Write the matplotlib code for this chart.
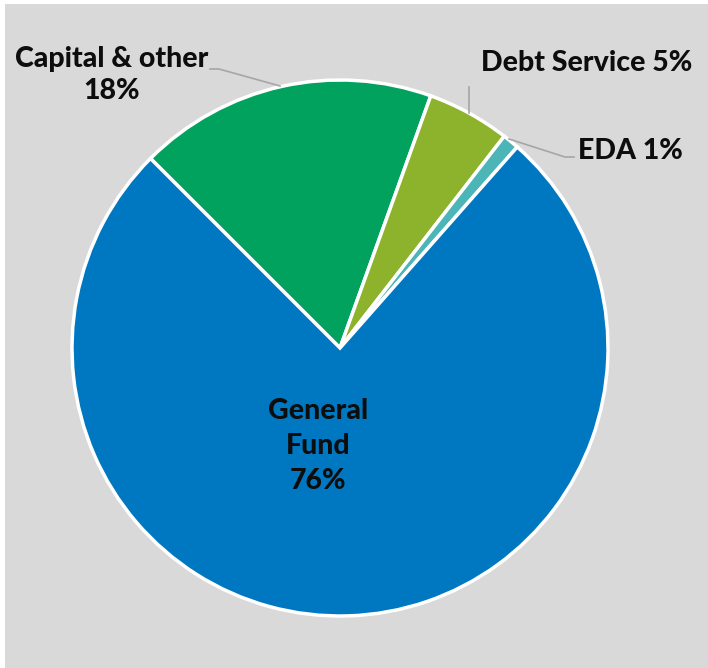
import matplotlib
matplotlib.use("Agg")
import matplotlib.pyplot as plt
from matplotlib.patches import Rectangle

# Fund shares, listed clockwise from the upper-left
categories = ["Capital & other", "Debt Service", "EDA", "General Fund"]
shares = [18, 5, 1, 76]
colors = ["#00a25e", "#8db22c", "#4bb5b7", "#0078c1"]

W, H, DPI = 708, 668, 100
fig = plt.figure(figsize=(W / DPI, H / DPI), dpi=DPI, facecolor="white")
# grey panel with a thin white margin on the left and top
fig.patches.append(Rectangle((5 / W, 0), 1 - 5 / W, 1 - 4 / H,
                             transform=fig.transFigure, facecolor="#d9d9d9",
                             edgecolor="none", zorder=-10))

ax = fig.add_axes([0, 0, 1, 1])
ax.set_zorder(5)
ax.set_facecolor("none")
R = 268.0  # pie radius in pixels
cx, cy = 340.0, 348.0
ax.axis("off")

ax.pie(shares, colors=colors, startangle=135, counterclock=False,
       radius=1.0, center=(0, 0),
       wedgeprops=dict(edgecolor="white", linewidth=2.5))
ax.set_xlim(-cx / R, (W - cx) / R)
ax.set_ylim(-(H - cy) / R, cy / R)
ax.set_aspect("auto")


def P(x, y):
    """pixel position -> data coordinates"""
    return (x - cx) / R, (cy - y) / R


font = dict(family=["Lato", "DejaVu Sans"], fontweight="black",
            color="#0d0d0d", fontsize=20.5)
lc = "#a6a6a6"

# General Fund label inside its wedge
ax.text(*P(318, 446), f"General\nFund\n{shares[3]}%", ha="center", va="center",
        linespacing=1.42, **font)

# Capital & other
ax.text(*P(112, 75), f"{categories[0]}\n{shares[0]}%", ha="center",
        va="center", linespacing=1.3, **font)
xs, ys = zip(P(210, 69), P(219, 69), P(280, 86))
ax.plot(xs, ys, color=lc, lw=1.2)

# Debt Service
ax.text(*P(587, 63), f"{categories[1]} {shares[1]}%", ha="center",
        va="center", **font)
xs, ys = zip(P(469, 87), P(469, 113))
ax.plot(xs, ys, color=lc, lw=1.2)

# EDA
ax.text(*P(630, 151), f"{categories[2]} {shares[2]}%", ha="center",
        va="center", **font)
xs, ys = zip(P(509, 139), P(565, 157), P(574, 157))
ax.plot(xs, ys, color=lc, lw=1.2)

fig.savefig("out.png", dpi=DPI, facecolor=fig.get_facecolor())
